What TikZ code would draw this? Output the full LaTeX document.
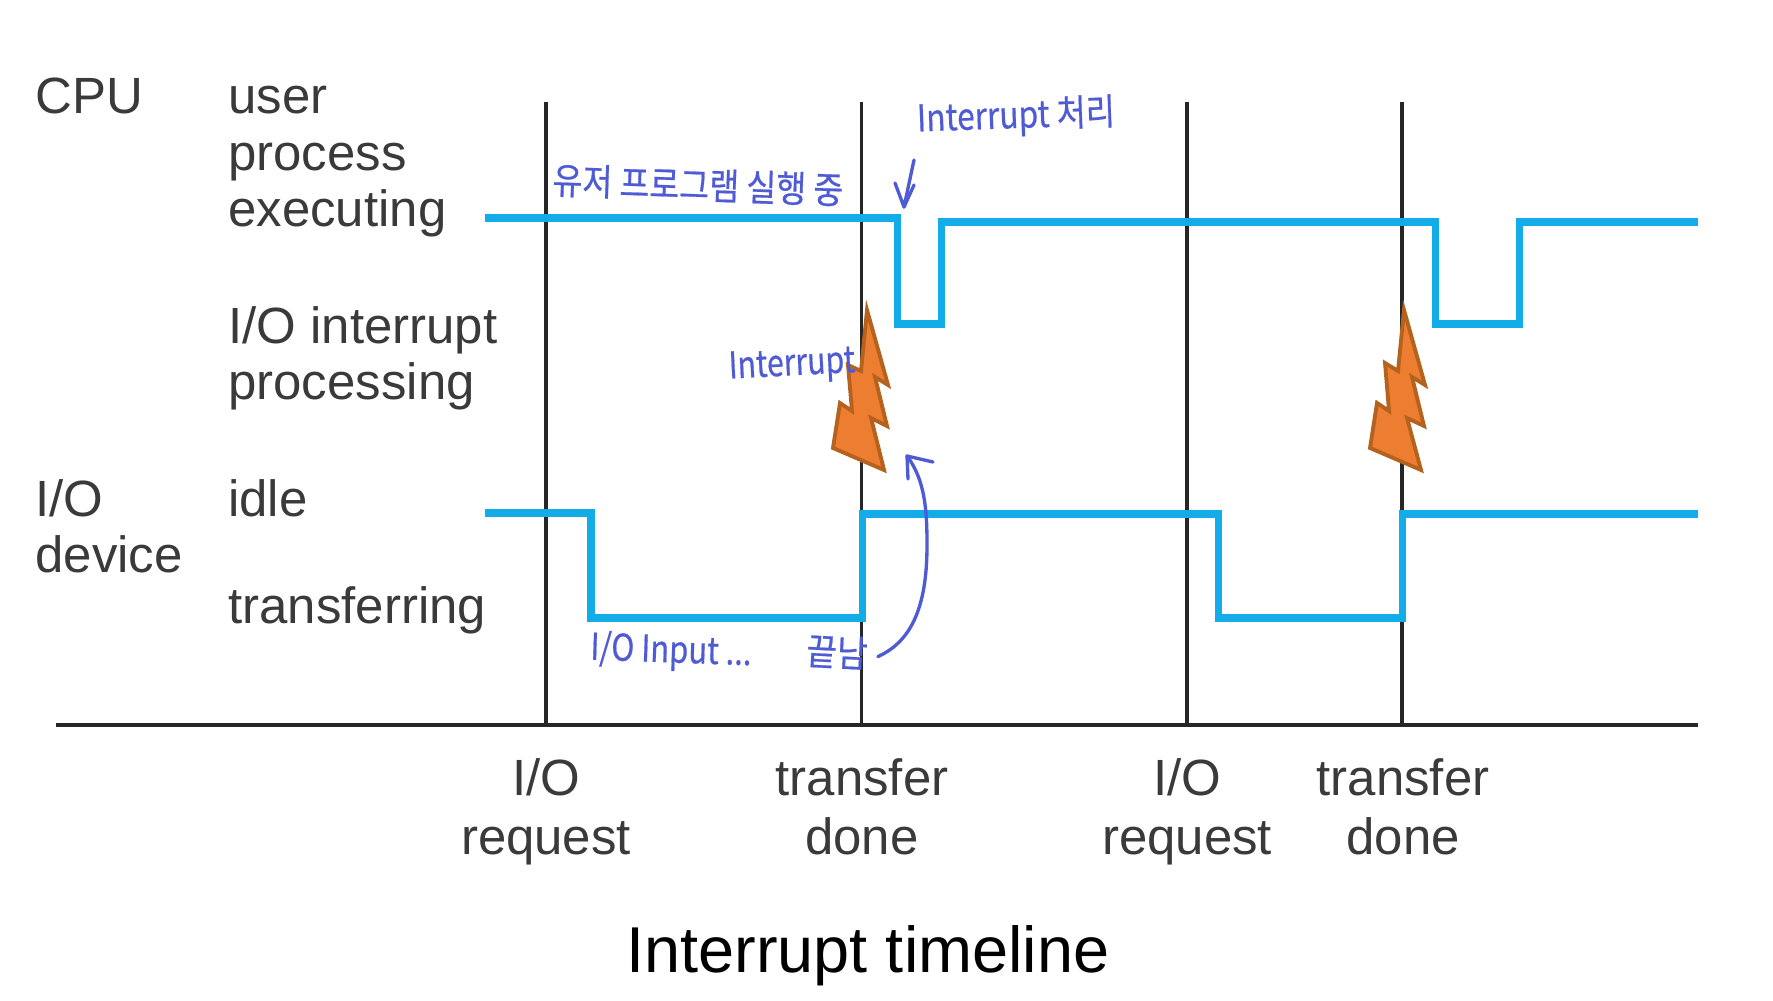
\documentclass[tikz,border=0pt]{standalone}
\usepackage{fontspec}
\setmainfont{Liberation Sans}
\newfontfamily\handfont[FakeBold=0.6]{Noto Sans CJK KR}
\definecolor{wave}{HTML}{12ADE8}
\definecolor{ink}{HTML}{3A3A3A}
\definecolor{pen}{HTML}{4F5BD5}
\definecolor{boltfill}{HTML}{ED7D31}
\definecolor{boltline}{HTML}{B5621F}
\tikzset{
  lbl/.style={anchor=base west,inner sep=0pt,text=ink,font=\fontsize{29}{29}\selectfont},
  lblc/.style={anchor=base,inner sep=0pt,text=ink,font=\fontsize{29}{29}\selectfont},
  hand/.style={inner sep=0pt,text=pen,font=\handfont\fontsize{21}{21}\selectfont},
  penline/.style={draw=pen,line width=1.9pt,line cap=round,line join=round},
  waveline/.style={draw=wave,line width=4pt,line join=miter},
  vline/.style={draw=black!85,line width=1.8pt},
  boltshape/.style={fill=boltfill,draw=boltline,line width=2.2pt,line join=miter}
}
\begin{document}
\begin{tikzpicture}[x=0.02cm,y=-0.02cm]
\useasboundingbox (0,0) rectangle (1773,1000);
% coordinates
\foreach \n/\x in {a/546,b/861.5,c/1187,d/1402}{
  \coordinate (\n top) at (\x,102);
  \coordinate (\n bot) at (\x,725);
}
\coordinate (axisL) at (56,725);
\coordinate (axisR) at (1698,725);
\draw[vline] (atop) -- (abot);
\draw[vline] (btop) -- (bbot);
\draw[vline] (ctop) -- (cbot);
\draw[vline] (dtop) -- (dbot);
\draw[draw=black!85,line width=2pt] (axisL) -- (axisR);
% waves
\draw[waveline] (485,218) -- (897,218) -- (897,324) -- (941,324) -- (941,222) -- (1435,222) -- (1435,324) -- (1519,324) -- (1519,222) -- (1698,222);
\draw[waveline] (485,513) -- (591,513) -- (591,618) -- (862,618) -- (862,514) -- (1218,514) -- (1218,618) -- (1402,618) -- (1402,514) -- (1698,514);
% bolts
\draw[boltshape] (867,310) -- (888,385) -- (875,377) -- (887,426) -- (871,418) -- (884,470) -- (833,448) -- (840,403) -- (852,411) -- (848,365) -- (861,371) -- cycle;
\draw[boltshape] (1404,310) -- (1425,385) -- (1412,377) -- (1424,426) -- (1407,418) -- (1421,470) -- (1370,448) -- (1377,403) -- (1389,411) -- (1385,363) -- (1398,371) -- cycle;
% printed labels
\node[lbl] (cpu) at (35,114) {CPU};
\node[lbl] (user) at (228,114) {user};
\node[lbl] (process) at (228,171) {process};
\node[lbl] (executing) at (228,226) {executing};
\node[lbl] (intr) at (228,343) {I/O interrupt};
\node[lbl] (proc) at (228,399) {processing};
\node[lbl] (io) at (35,516) {I/O};
\node[lbl] (device) at (35,572) {device};
\node[lbl] (idle) at (228,516) {idle};
\node[lbl] (transferring) at (228,623) {transferring};
\node[lblc] (r1a) at (546,795) {I/O};
\node[lblc] (r1b) at (546,854) {request};
\node[lblc] (t1a) at (862,795) {transfer};
\node[lblc] (t1b) at (862,854) {done};
\node[lblc] (r2a) at (1187,795) {I/O};
\node[lblc] (r2b) at (1187,854) {request};
\node[lblc] (t2a) at (1403,795) {transfer};
\node[lblc] (t2b) at (1403,854) {done};
\node[anchor=base,inner sep=0pt,font=\fontsize{36.9}{36.9}\selectfont] (title) at (868,972) {Interrupt timeline};
% handwritten notes
\node[hand,rotate=-2,xscale=.88] (h1) at (698,185) {유저 프로그램 실행 중};
\node[hand,rotate=2,xscale=.86] (h2) at (1016,117) {Interrupt 처리};
\node[hand,rotate=3,xscale=.82] (h3) at (792,366) {Interrupt};
\node[hand,rotate=-2,xscale=.84] (h4) at (671,652) {I/O Input ...};
\node[hand,rotate=-3,xscale=.9] (h5) at (837,652) {끝남};
% handwritten arrows
\coordinate (dnTop) at (914,160);
\coordinate (dnTip) at (904,207);
\draw[penline] (dnTop) -- (dnTip) -- (895,183);
\draw[penline] (dnTip) -- (914,185);
\coordinate (upTip) at (907,456);
\draw[penline] (h5.east) ++(10,3) .. controls (915,640) and (927,600) .. (927,545) .. controls (927,510) and (925,480) .. (upTip);
\draw[penline] (908,479) -- (upTip) -- (933,462);
\end{tikzpicture}
\end{document}
